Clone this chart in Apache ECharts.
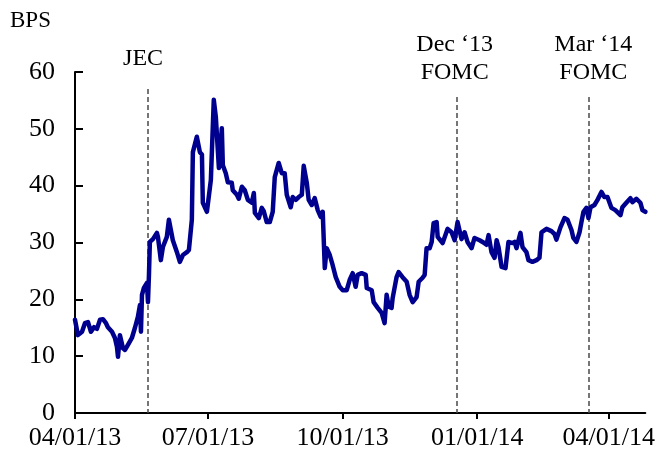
<!DOCTYPE html>
<html>
<head>
<meta charset="utf-8">
<script src="https://cdn.jsdelivr.net/npm/echarts@6/dist/echarts.min.js"></script>
<style>
html,body{margin:0;padding:0;background:#fff;}
#chart{width:658px;height:458px;}
</style>
</head>
<body>
<div id="chart"></div>
<script>
// Days since 2013-04-01
const tickDays = [0, 91, 183, 275, 365];
const tickLabels = ['04/01/13', '07/01/13', '10/01/13', '01/01/14', '04/01/14'];
const yTicks = [0, 10, 20, 30, 40, 50, 60];

const days = [
  0, 2.0, 4.8, 6.8, 8.9, 10.9, 13.0, 15.0, 17.1, 19.1, 21.2, 22.5, 25.3, 27.3, 28.7, 29.4, 30.7, 32.8, 34.2, 36.2,
  38.9, 41.0, 43.0, 44.4, 45.1, 45.8, 47.1, 49.2, 49.9, 50.6, 51.2, 53.3, 56.0, 56.7, 58.7, 60.1, 62.8, 64.2, 66.9, 69.7,
  71.7, 73.8, 76.5, 77.9, 79.9, 80.6, 83.3, 84.0, 85.4, 86.8, 87.4, 90.2, 91.5, 92.9, 94.9, 96.3, 98.4, 100.4, 101.1, 103.1,
  104.5, 107.2, 107.9, 110.7, 112.0, 114.1, 116.1, 118.2, 120.9, 122.3, 123.0, 125.7, 127.7, 129.1, 131.1, 133.2, 135.2, 136.6, 139.3, 141.4,
  143.4, 144.8, 147.5, 148.9, 151.0, 153.0, 155.1, 156.4, 158.5, 159.8, 161.9, 163.9, 166.0, 168.0, 169.4, 170.8, 172.1, 174.2, 176.2, 178.3,
  181.0, 183.1, 185.8, 187.8, 189.9, 191.9, 193.3, 196.0, 198.8, 199.5, 202.9, 204.2, 207.0, 209.7, 211.7, 213.1, 214.5, 216.5, 217.2, 219.9,
  221.3, 224.0, 226.8, 228.8, 230.9, 233.6, 235.0, 237.7, 239.1, 240.4, 242.5, 243.9, 245.2, 247.3, 248.0, 251.4, 254.8, 257.5, 259.6, 261.6,
  264.3, 266.4, 268.4, 271.2, 273.2, 276.7, 278.7, 281.4, 282.8, 284.8, 286.9, 288.3, 289.6, 291.7, 294.4, 296.4, 299.2, 300.6, 301.9, 304.6,
  306.0, 308.7, 310.1, 312.8, 315.6, 317.6, 319.0, 322.4, 325.8, 327.9, 329.2, 332.0, 334.7, 336.8, 339.5, 340.8, 342.9, 345.0, 346.3, 347.7,
  349.7, 351.1, 352.5, 355.2, 357.3, 360.0, 362.0, 364.1, 366.8, 369.5, 373.0, 374.3, 377.0, 379.8, 381.1, 383.9, 386.6, 388.0, 390.0
];
const bps = [
  16.4, 13.7, 14.3, 15.8, 16.0, 14.3, 15.1, 14.8, 16.4, 16.5, 15.8, 15.1, 14.3, 13.2, 11.6, 9.9, 13.7, 11.4, 11.1, 12.0,
  13.2, 15.0, 16.9, 19.0, 14.3, 20.8, 22.0, 22.9, 19.5, 24.5, 30.1, 30.6, 31.7, 31.0, 26.9, 29.2, 31.0, 34.0, 30.4, 28.3,
  26.6, 27.8, 28.3, 28.7, 34.0, 45.9, 48.6, 48.9, 45.9, 45.5, 37.0, 35.4, 35.2, 41.0, 55.1, 52.1, 43.1, 50.1, 43.6, 42.2,
  40.6, 40.5, 39.2, 38.4, 37.7, 39.8, 39.2, 37.5, 37.0, 38.7, 35.2, 34.3, 36.1, 35.5, 33.6, 33.6, 35.4, 41.5, 44.0, 42.2,
  42.2, 38.4, 36.2, 38.0, 37.5, 38.0, 38.4, 43.5, 40.5, 37.5, 36.6, 37.8, 35.7, 34.5, 35.4, 25.5, 29.0, 27.8, 26.0, 23.9,
  22.2, 21.6, 21.6, 23.4, 24.6, 22.2, 24.3, 24.6, 24.3, 22.0, 21.6, 19.5, 18.5, 17.6, 15.8, 20.8, 18.7, 18.5, 20.2, 23.9,
  24.8, 23.9, 23.1, 20.8, 19.5, 20.4, 23.1, 23.8, 24.3, 29.0, 29.0, 30.1, 33.4, 33.6, 31.0, 29.9, 32.4, 31.8, 30.4, 33.6,
  30.6, 31.8, 30.1, 29.0, 30.8, 30.4, 30.1, 29.6, 31.3, 28.3, 27.3, 30.4, 29.2, 25.7, 25.5, 30.1, 29.9, 30.1, 29.0, 31.7,
  29.2, 28.3, 26.9, 26.6, 26.9, 27.3, 31.8, 32.4, 32.0, 31.5, 30.5, 32.7, 34.3, 34.0, 32.2, 30.8, 30.1, 31.8, 33.6, 35.4,
  36.1, 34.3, 36.2, 36.6, 37.5, 38.9, 38.0, 38.0, 36.1, 35.7, 34.8, 36.2, 37.0, 37.8, 37.1, 37.7, 37.0, 35.7, 35.4
];

const eventDays = [50, 261, 351];
const eventLabels = ['JEC', 'Dec \u201813\nFOMC', 'Mar \u201814\nFOMC'];
const eventTops = [57.0, 55.6, 55.6];
const eventLabelOffsets = [[-5, 0], [-2, 0], [5, 0]];
const eventLabelDist = [16, 10, 10];

const seriesData = days.map((d, i) => [d, bps[i]]);
const FONT = '"Liberation Serif", "Times New Roman", serif';

const markData = eventDays.map((d, i) => [
  {
    coord: [d, eventTops[i]],
    label: {
      show: true, position: 'start', formatter: eventLabels[i],
      fontFamily: FONT, fontSize: 24, color: '#000', lineHeight: 28,
      distance: eventLabelDist[i], offset: eventLabelOffsets[i]
    }
  },
  { coord: [d, 0] }
]);

const chart = echarts.init(document.getElementById('chart'), null, { renderer: 'canvas' });
chart.setOption({
  animation: false,
  backgroundColor: '#fff',
  grid: { left: 75, right: 12, top: 72, bottom: 45, containLabel: false },
  xAxis: {
    type: 'value', min: 0, max: 390,
    splitLine: { show: false },
    axisLine: { show: true, onZero: false, lineStyle: { color: '#000', width: 2 } },
    axisTick: { show: true, customValues: tickDays, length: 6, inside: false, lineStyle: { color: '#000', width: 2 } },
    axisLabel: {
      customValues: tickDays,
      formatter: v => tickLabels[tickDays.indexOf(v)] || '',
      fontFamily: FONT, fontSize: 26, color: '#000', margin: 12
    }
  },
  yAxis: {
    type: 'value', min: 0, max: 60, interval: 10,
    splitLine: { show: false },
    axisLine: { show: true, lineStyle: { color: '#000', width: 2 } },
    axisTick: { show: true, inside: true, length: 8, lineStyle: { color: '#000', width: 2 } },
    axisLabel: { fontFamily: FONT, fontSize: 26, color: '#000', margin: 20 }
  },
  graphic: [{
    type: 'text', left: 10, top: 9,
    style: { text: 'BPS', font: '23px "Liberation Serif", serif', fill: '#000' }
  }],
  series: [{
    type: 'line',
    data: seriesData,
    showSymbol: false,
    symbol: 'none',
    lineStyle: { color: '#00008f', width: 4.5, join: 'round', cap: 'round' },
    z: 3,
    markLine: {
      silent: true,
      symbol: ['none', 'none'],
      lineStyle: { color: '#4a4a4a', width: 1.5, type: [5, 3] },
      data: markData,
      z: 2
    }
  }]
});
</script>
</body>
</html>
